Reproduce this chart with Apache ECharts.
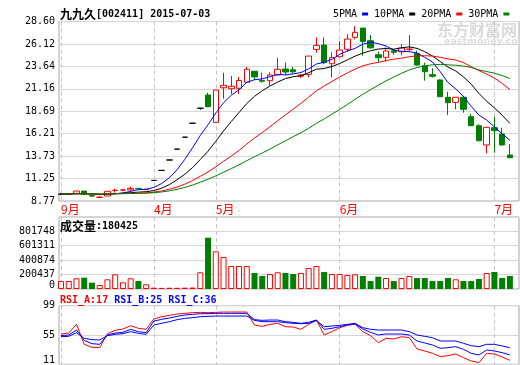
<!DOCTYPE html>
<html>
<head>
<meta charset="utf-8">
<script src="https://cdn.jsdelivr.net/npm/echarts@6/dist/echarts.min.js"></script>
<style>
  html, body { margin: 0; padding: 0; background: #fff; }
  #chart { width: 520px; height: 365px; }
</style>
</head>
<body>
<div id="chart"></div>
<script>
const stockName = '九九久';
const stockCode = '002411';
const tradeDate = '2015-07-03';

// month boundaries (bar index) and their labels
const monthStarts = [0, 12, 20, 36, 56];
const monthNames = ['9月', '4月', '5月', '6月', '7月'];

// daily candles
const opens = [9.52, 9.53, 9.62, 9.87, 9.36, 9.17, 9.32, 9.93, 9.97, 10.00,
  10.16, 10.03, 11.04, 12.15, 13.30, 14.50, 15.82, 17.36, 19.02, 20.48,
  17.46, 21.28, 21.17, 21.22, 21.88, 23.10, 22.08, 22.06, 22.69, 23.35,
  23.27, 22.55, 22.76, 25.52, 26.00, 23.94, 24.71, 25.53, 26.85, 27.87,
  26.48, 24.93, 24.64, 25.37, 25.26, 25.50, 25.08, 23.72, 22.73, 22.14,
  20.23, 19.67, 20.23, 18.08, 17.09, 14.96, 16.87, 16.17, 13.85];
const closes = [9.52, 9.53, 9.87, 9.51, 9.32, 9.19, 9.84, 9.96, 10.00, 10.17,
  10.12, 10.05, 11.04, 12.15, 13.30, 14.50, 15.82, 17.36, 19.02, 19.19,
  21.03, 21.55, 21.44, 22.08, 23.32, 22.48, 22.00, 22.69, 23.32, 23.02,
  23.05, 22.70, 24.78, 25.96, 24.05, 24.60, 25.45, 26.66, 27.40, 26.40,
  25.69, 24.60, 25.34, 25.20, 25.67, 25.56, 23.79, 23.05, 22.55, 20.29,
  19.63, 20.23, 18.90, 17.09, 15.43, 16.91, 16.54, 14.96, 13.55];
const lows = [9.45, 9.50, 9.60, 9.45, 9.22, 9.16, 9.30, 9.69, 9.88, 9.85,
  10.05, 10.00, 11.04, 12.15, 13.30, 14.50, 15.82, 17.36, 18.85, 19.12,
  17.40, 20.07, 20.59, 20.59, 21.85, 22.14, 21.84, 21.55, 22.65, 22.69,
  22.84, 22.35, 22.43, 25.15, 23.87, 22.43, 24.65, 25.26, 26.63, 24.82,
  25.60, 24.09, 24.16, 24.93, 24.86, 25.26, 23.72, 22.06, 22.42, 20.29,
  18.27, 18.90, 18.52, 17.05, 15.43, 14.04, 14.11, 14.90, 13.55];
const highs = [9.62, 9.56, 9.90, 9.88, 9.47, 9.32, 9.86, 10.13, 10.10, 10.35,
  10.22, 10.16, 11.04, 12.15, 13.30, 14.50, 15.82, 17.36, 19.02, 20.73,
  21.03, 22.94, 22.58, 22.47, 23.57, 23.15, 22.94, 22.98, 24.60, 24.05,
  23.57, 22.75, 24.78, 26.83, 26.83, 25.20, 26.44, 27.20, 28.09, 27.90,
  27.10, 25.26, 25.75, 25.53, 26.11, 27.10, 25.37, 24.05, 23.43, 22.20,
  20.84, 20.25, 20.37, 18.38, 17.24, 16.95, 18.08, 16.87, 15.07];

// moving averages as plotted
const ma5 = [9.54, 9.54, 9.60, 9.60, 9.55, 9.48, 9.55, 9.56, 9.66, 9.83,
  10.02, 10.06, 10.27, 10.70, 11.33, 12.22, 13.38, 14.65, 16.02, 17.20,
  18.49, 19.63, 20.45, 21.06, 21.88, 22.17, 22.26, 22.51, 22.76, 22.70,
  22.82, 22.96, 23.37, 23.90, 24.11, 24.42, 24.97, 25.34, 25.63, 26.10,
  26.32, 26.15, 25.89, 25.45, 25.30, 25.27, 25.11, 24.65, 24.12, 23.05,
  21.86, 21.15, 20.32, 19.23, 18.26, 17.71, 16.97, 16.19, 15.48];
const ma10 = [9.55, 9.55, 9.58, 9.57, 9.55, 9.51, 9.54, 9.58, 9.63, 9.69,
  9.75, 9.80, 9.92, 10.18, 10.58, 11.12, 11.72, 12.46, 13.36, 14.27,
  15.36, 16.51, 17.55, 18.54, 19.54, 20.33, 20.95, 21.48, 21.91, 22.29,
  22.50, 22.61, 22.94, 23.33, 23.41, 23.62, 23.96, 24.36, 24.77, 25.11,
  25.37, 25.56, 25.62, 25.54, 25.70, 25.80, 25.63, 25.27, 24.79, 24.17,
  23.57, 23.13, 22.49, 21.68, 20.65, 19.79, 19.06, 18.25, 17.35];
const ma20 = [9.55, 9.55, 9.56, 9.56, 9.55, 9.53, 9.55, 9.57, 9.59, 9.62,
  9.65, 9.67, 9.75, 9.88, 10.07, 10.32, 10.63, 11.02, 11.50, 11.98,
  12.55, 13.16, 13.73, 14.36, 15.06, 15.73, 16.33, 16.97, 17.64, 18.28,
  18.93, 19.56, 20.25, 20.94, 21.47, 21.98, 22.46, 22.92, 23.34, 23.70,
  23.93, 24.09, 24.28, 24.44, 24.55, 24.71, 24.80, 24.82, 24.78, 24.64,
  24.47, 24.35, 24.05, 23.61, 23.18, 22.79, 22.35, 21.76, 21.07];
const ma30 = [9.55, 9.55, 9.56, 9.56, 9.55, 9.54, 9.55, 9.56, 9.58, 9.60,
  9.62, 9.63, 9.68, 9.77, 9.89, 10.06, 10.27, 10.53, 10.85, 11.17,
  11.55, 11.95, 12.35, 12.77, 13.22, 13.66, 14.07, 14.51, 14.97, 15.42,
  15.87, 16.31, 16.80, 17.35, 17.84, 18.36, 18.88, 19.43, 20.01, 20.55,
  21.07, 21.56, 22.04, 22.47, 22.88, 23.25, 23.51, 23.70, 23.82, 23.86,
  23.81, 23.77, 23.68, 23.52, 23.25, 23.07, 22.89, 22.63, 22.30];

const volumes = [110600, 110600, 148000, 156000, 87000, 55000, 134000, 203000, 92000, 148000,
  110600, 65000, 18000, 15000, 17000, 16000, 18000, 20000, 231000, 709000,
  521000, 442000, 318000, 318000, 318000, 221000, 180000, 207000, 231000, 221000,
  207000, 221000, 290000, 318000, 235000, 207000, 207000, 193000, 203000, 180000,
  110000, 170000, 152000, 110000, 152000, 180000, 152000, 152000, 110000, 110000,
  152000, 134000, 110000, 110000, 138000, 221000, 235000, 152000, 180425];

const rsiA = [56.5, 58, 71, 41, 36.5, 36, 57, 62, 64, 69,
  65, 63.5, 79, 82.5, 84.5, 86.5, 87.5, 88.5, 89, 88.5,
  89, 89.5, 89.5, 89.5, 89.5, 70, 68, 71, 72.5, 67.5,
  67, 63.5, 71, 77.5, 55, 60, 66, 69.5, 71.5, 60,
  54, 43.5, 50, 49, 52.5, 51, 34, 31, 27.5, 22.5,
  24, 26.5, 21, 16, 13.5, 27.5, 26.5, 22, 17];
const rsiB = [54, 55, 62.5, 47, 42, 41, 55, 58, 59, 63.5,
  60, 58.5, 76, 78.5, 80.5, 83, 85, 86, 87, 87,
  87.5, 87.5, 87.5, 87.5, 87.5, 78, 77, 77.5, 77.5, 75,
  74, 72.5, 74, 77.5, 63.5, 65, 67.5, 70, 71.5, 64,
  59, 55, 56.5, 56.5, 56.5, 55, 46, 43, 40, 35,
  36, 37.5, 33.5, 27.5, 25, 32.5, 31, 28.5, 25];
const rsiC = [52.5, 53, 58.5, 50, 48, 47.5, 54, 56, 57, 60,
  57.5, 56, 70, 72.5, 75, 78, 80, 81, 82.5, 83,
  83.5, 83.5, 83.5, 83.5, 83.5, 77, 75, 75, 75, 73.5,
  72.5, 72, 72.5, 76.5, 67.5, 68.5, 69.5, 71, 72.5, 66,
  63.5, 62.5, 62.5, 62.5, 62.5, 60, 55, 53, 51, 46,
  46, 46, 42.5, 39, 37.5, 41, 41, 38.5, 36];

const priceTicks = ['8.77', '11.25', '13.73', '16.21', '18.69', '21.16', '23.64', '26.12', '28.60'];
const volumeTicks = ['0', '200437', '400874', '601311', '801748'];
const rsiTicks = ['11', '55', '99'];

const MONO = "'DejaVu Sans Mono', monospace";
const CJK = "'Noto Sans CJK SC', sans-serif";
const RED = '#ff0000', GREEN = '#008000', BLUE = '#0000ff';
const GRID_LINE = '#d6d6d6', FRAME_LINE = '#a6a6a6', DASH_LINE = '#c4c4c4';

// panel geometry
const MAIN_TOP = 21.5, MAIN_H = 179.5;
const VOL_TOP = 217, VOL_H = 72, VOL_PAD = 14; // top of frame to the 801748 line
const RSI_TOP = 305.7, RSI_H = 58.6;

const categories = opens.map((_, i) => String(i));
const last = closes.length - 1;
const isMonthStart = (i) => monthStarts.indexOf(i) >= 0;

const candles = opens.map((o, i) => [o, closes[i], lows[i], highs[i]]);
const volumeBars = volumes.map((v, i) => {
  const up = closes[i] >= opens[i];
  return {
    value: v,
    itemStyle: up ? { color: '#fff', borderColor: RED, borderWidth: 1 } : { color: GREEN }
  };
});

const volScaleMax = 801748 * VOL_H / (VOL_H - VOL_PAD);
const volTickMax = 4 * VOL_H / (VOL_H - VOL_PAD);

const frameGrid = (top, height) => ({
  left: 59, right: 1, top, height, show: true,
  borderColor: FRAME_LINE, borderWidth: 1, backgroundColor: 'transparent'
});
const dataGrid = (top, height) => ({ left: 61, right: 10.1, top, height });

const hiddenX = (gridIndex) => ({ type: 'value', gridIndex, min: 0, max: 1, show: false });
const dataX = (gridIndex, withLabels) => ({
  type: 'category', gridIndex, data: categories, boundaryGap: false,
  axisLine: { show: false }, axisTick: { show: false },
  axisLabel: withLabels ? {
    show: true, interval: isMonthStart, margin: 2, align: 'left',
    color: RED, fontFamily: CJK, fontSize: 12,
    formatter: (v) => monthNames[monthStarts.indexOf(Number(v))] || ''
  } : { show: false },
  splitLine: { show: true, interval: isMonthStart, lineStyle: { color: DASH_LINE, type: [4, 3], width: 1 } }
});

const frameY = (gridIndex, max, ticks, lift) => ({
  type: 'value', gridIndex, min: 0, max, interval: 1,
  axisLine: { show: false }, axisTick: { show: false },
  axisLabel: {
    margin: 4, color: '#000', fontFamily: MONO, fontSize: 10,
    formatter: (v) => {
      const k = Math.round(v);
      if (Math.abs(v - k) > 1e-6 || k >= ticks.length) return '';
      if (k === 0 && lift) return '{low|' + ticks[0] + '}';
      return ticks[k];
    },
    rich: { low: { padding: [0, 0, lift * 2, 0], fontFamily: MONO, fontSize: 10, color: '#000' } }
  },
  splitLine: { show: true, lineStyle: { color: GRID_LINE, width: 1 } }
});
const dataY = (gridIndex, min, max) => ({ type: 'value', gridIndex, min, max, show: false });

const maLine = (name, data, color) => ({
  name, type: 'line', xAxisIndex: 1, yAxisIndex: 1, data,
  symbol: 'none', smooth: false, clip: false,
  lineStyle: { color, width: 1 }, itemStyle: { color }
});
const rsiLine = (name, data, color) => ({
  name, type: 'line', xAxisIndex: 5, yAxisIndex: 5, data,
  symbol: 'none', clip: false, lineStyle: { color, width: 1 }, itemStyle: { color }
});

const chart = echarts.init(document.getElementById('chart'));

chart.setOption({
  animation: false,
  backgroundColor: '#fff',
  title: [
    {
      text: '{c|' + stockName + '}{m|[' + stockCode + '] ' + tradeDate + '}',
      left: 60, top: 7, padding: 0,
      textStyle: { rich: {
        c: { fontFamily: CJK, fontSize: 12, color: '#000', lineHeight: 14, verticalAlign: 'middle' },
        m: { fontFamily: MONO, fontSize: 10, color: '#000', lineHeight: 14, verticalAlign: 'middle' }
      } }
    },
    {
      text: '{c|成交量}{m|:' + volumes[last] + '}',
      left: 60, top: 219, padding: 0,
      textStyle: { rich: {
        c: { fontFamily: CJK, fontSize: 12, color: '#000', lineHeight: 14, verticalAlign: 'middle' },
        m: { fontFamily: MONO, fontSize: 10, color: '#000', lineHeight: 14, verticalAlign: 'middle' }
      } }
    },
    {
      text: '{a|RSI_A:' + Math.round(rsiA[last]) + '} {b|RSI_B:' + Math.round(rsiB[last]) + '} {b|RSI_C:' + Math.round(rsiC[last]) + '}',
      left: 60, top: 294, padding: 0,
      textStyle: { fontFamily: MONO, fontSize: 10, rich: {
        a: { fontFamily: MONO, fontSize: 10, color: RED, lineHeight: 12 },
        b: { fontFamily: MONO, fontSize: 10, color: BLUE, lineHeight: 12 }
      } }
    }
  ],
  legend: {
    left: 333, top: 9, padding: 0, align: 'right', icon: 'rect',
    itemWidth: 6, itemHeight: 3, itemGap: 6, selectedMode: false,
    textStyle: { fontFamily: MONO, fontSize: 10, color: '#000' },
    data: ['5PMA', '10PMA', '20PMA', '30PMA']
  },
  graphic: [
    { type: 'text', x: 437, y: 22, z: 0, silent: true,
      style: { text: '东方财富网', fill: '#dadada', font: "bold 16px 'Noto Sans CJK SC'" } },
    { type: 'text', x: 444, y: 37, z: 0, silent: true,
      style: { text: 'eastmoney.com', fill: '#dedede', font: "bold 9.5px 'DejaVu Sans'" } }
  ],
  grid: [
    frameGrid(MAIN_TOP, MAIN_H), dataGrid(MAIN_TOP, MAIN_H),
    frameGrid(VOL_TOP, VOL_H), dataGrid(VOL_TOP, VOL_H),
    frameGrid(RSI_TOP, RSI_H), dataGrid(RSI_TOP, RSI_H)
  ],
  xAxis: [hiddenX(0), dataX(1, true), hiddenX(2), dataX(3, false), hiddenX(4), dataX(5, false)],
  yAxis: [
    frameY(0, 8, priceTicks, 0), dataY(1, 8.77, 28.60),
    frameY(2, volTickMax, volumeTicks, 3.3), dataY(3, 0, volScaleMax),
    frameY(4, 2, rsiTicks, 4.3), dataY(5, 11, 99)
  ],
  series: [
    {
      name: stockName, type: 'candlestick', xAxisIndex: 1, yAxisIndex: 1,
      data: candles, barWidth: 6, clip: false,
      itemStyle: {
        color: '#fff', color0: GREEN,
        borderColor: RED, borderColor0: GREEN, borderColorDoji: '#000', borderWidth: 1
      }
    },
    maLine('5PMA', ma5, BLUE),
    maLine('10PMA', ma10, '#000'),
    maLine('20PMA', ma20, RED),
    maLine('30PMA', ma30, GREEN),
    {
      name: '成交量', type: 'bar', xAxisIndex: 3, yAxisIndex: 3,
      data: volumeBars, barWidth: 6, clip: false
    },
    rsiLine('RSI_A', rsiA, RED),
    rsiLine('RSI_B', rsiB, BLUE),
    rsiLine('RSI_C', rsiC, BLUE)
  ]
});
</script>
</body>
</html>
